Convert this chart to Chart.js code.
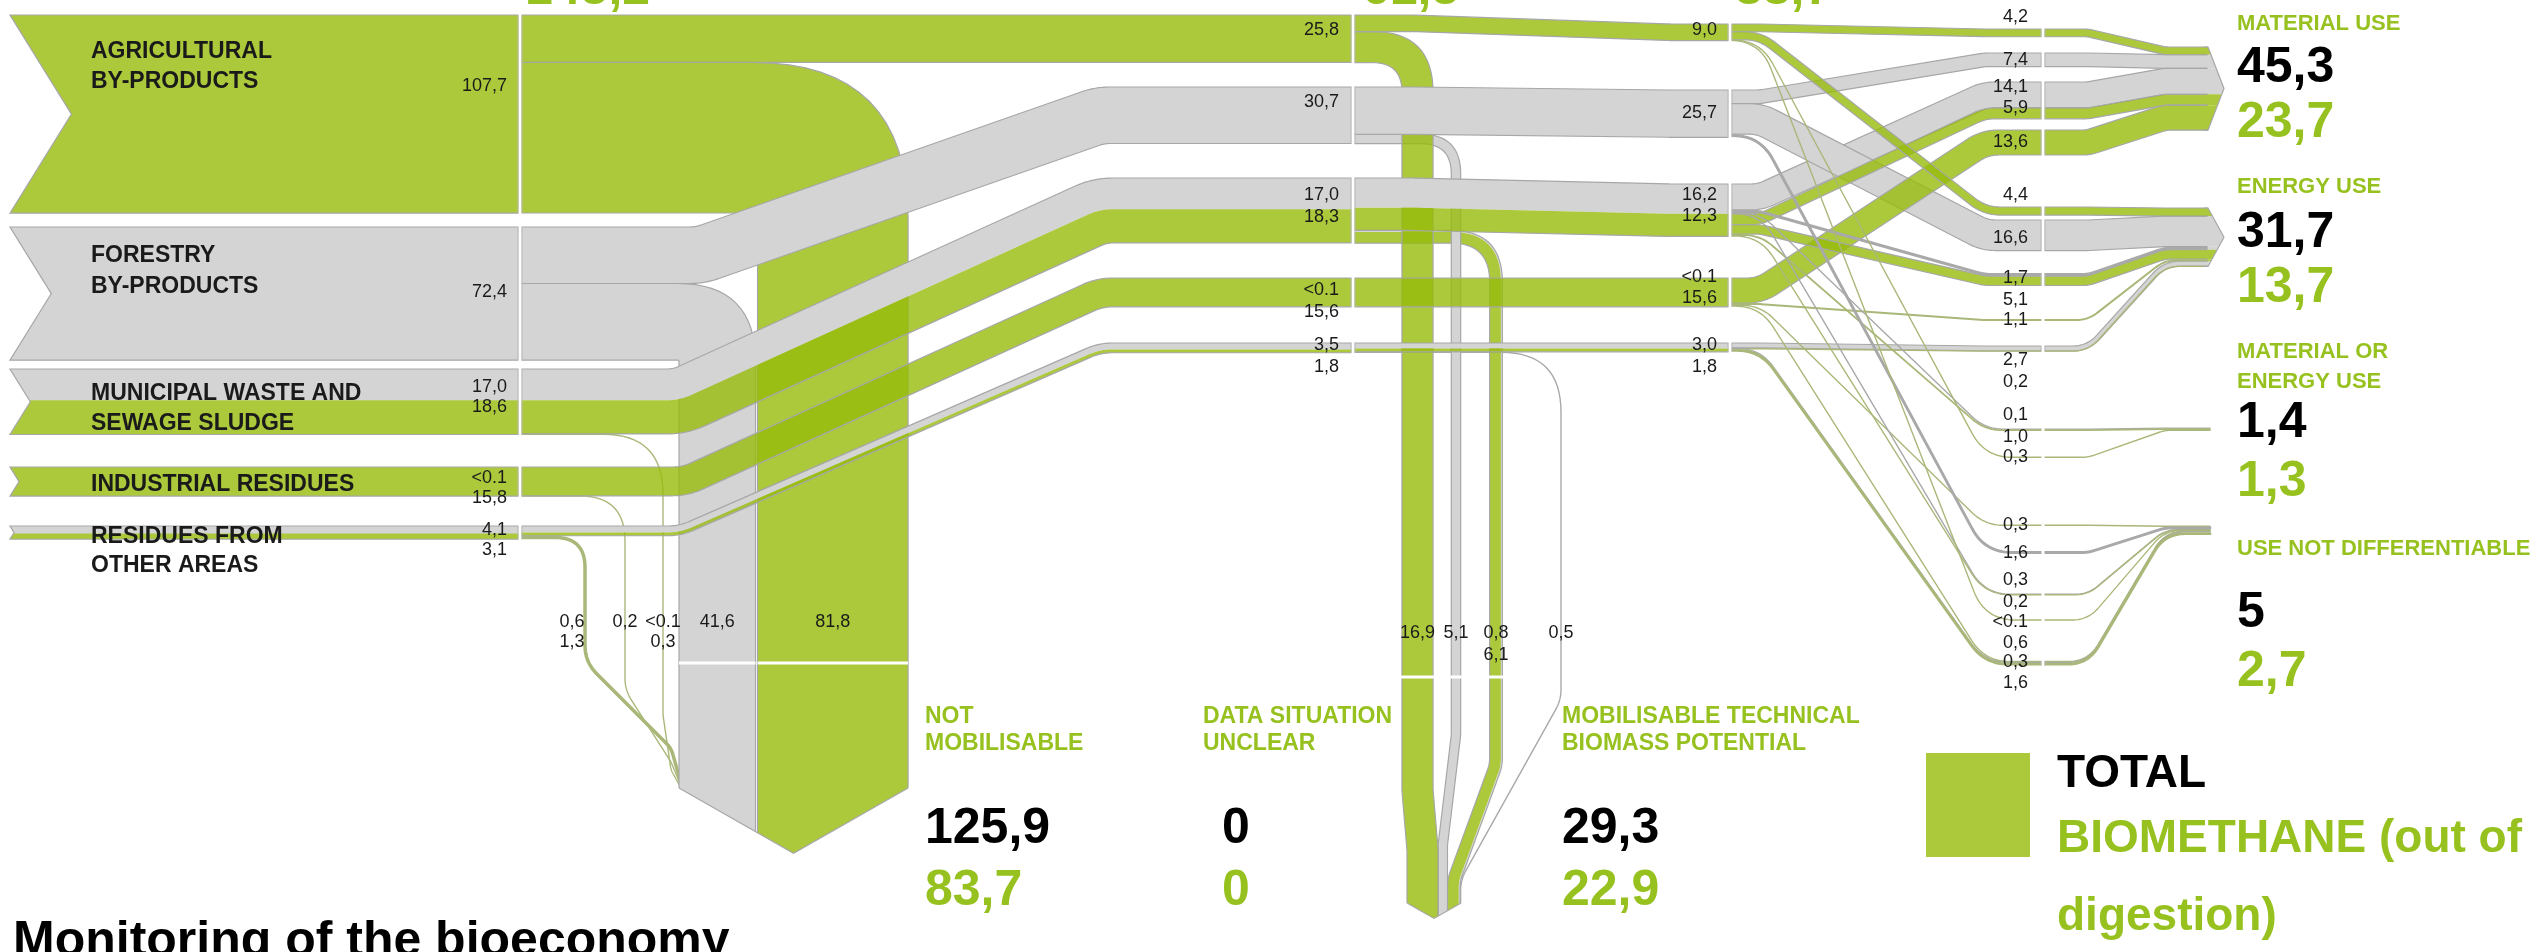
<!DOCTYPE html>
<html>
<head>
<meta charset="utf-8">
<script src="https://cdn.jsdelivr.net/npm/chart.js@4.4.1/dist/chart.umd.min.js"></script>
<style>
  html, body { margin: 0; padding: 0; background: #fff; overflow: hidden; }
</style>
</head>
<body>
<canvas id="myChart" width="2547" height="952"></canvas>
<script>
// DATA  (LT stands for "<0.1")
const LT = 0.05;
const sources = ["AGRICULTURAL\nBY-PRODUCTS", "FORESTRY\nBY-PRODUCTS", "MUNICIPAL WASTE AND\nSEWAGE SLUDGE", "INDUSTRIAL RESIDUES", "RESIDUES FROM\nOTHER AREAS"];
const totalOther = [0, 72.4, 17.0, LT, 4.1];
const totalBio = [107.7, 0, 18.6, 15.8, 3.1];
const notMobOther = [0, 41.6, LT, 0, 0.6];
const notMobBio = [81.8, 0, 0.3, 0.2, 1.3];
const toB_Other = [0, 30.7, 17.0, LT, 3.5];
const toB_Bio = [25.8, 0, 18.3, 15.6, 1.8];
const mobOther = [0, 5.1, 0.8, 0, 0.5];
const mobBio = [16.9, 0, 6.1, 0, 0];
const toC_Other = [0, 25.7, 16.2, LT, 3.0];
const toC_Bio = [9.0, 0, 12.3, 15.6, 1.8];

// split of the mobilisable flows into uses (one entry per labelled flow)
const splitSource = [0, 1, 2, 2, 3, 0, 1, 2, 2, 3, 4, 4, 2, 2, 0, 3, 1, 2, 2, 0, 3, 4, 4];
const splitKind = ["bio", "other", "other", "bio", "bio", "bio", "other", "other", "bio", "bio", "other", "bio", "other", "bio", "bio", "bio", "other", "other", "bio", "bio", "bio", "other", "bio"];
const splitValue = [4.2, 7.4, 14.1, 5.9, 13.6, 4.4, 16.6, 1.7, 5.1, 1.1, 2.7, 0.2, 0.1, 1.0, 0.3, 0.3, 1.6, 0.3, 0.2, LT, 0.6, 0.3, 1.6];
const splitUse = [0, 0, 0, 0, 0, 1, 1, 1, 1, 1, 1, 1, 2, 2, 2, 3, 3, 3, 3, 3, 3, 3, 3];
const splitLane = [0, 1, 2, 2, 3, 4, 5, 6, 6, 7, 8, 8, 9, 9, 10, 11, 12, 13, 13, 14, 15, 15, 15];

const uses = ["MATERIAL USE", "ENERGY USE", "MATERIAL OR\nENERGY USE", "USE NOT DIFFERENTIABLE"];
const useTotal = [45.3, 31.7, 1.4, 5];
const useBio = [23.7, 13.7, 1.3, 2.7];
const stages = ["NOT\nMOBILISABLE", "DATA SITUATION\nUNCLEAR", "MOBILISABLE TECHNICAL\nBIOMASS POTENTIAL"];
const stageTotal = [125.9, 0, 29.3];
const stageBio = [83.7, 0, 22.9];
const columnBio = [145.2, 61.5, 38.7];

// LAYOUT (positions only)
const K = 1.84;
const LAY = {
  nodeLeft: 10, colA: 520, colB: 1353, colC: 1730, colD: 2043, colT: 2208, tip: 16,
  srcTop: [15, 227, 369, 467, 526],
  bTop: [15, 87, 178, 278, 343],
  cTop: [24, 90, 184, 278, 343],
  diag: [[0, 0], [700, 1100], [680, 1100], [685, 1100], [680, 1100]],
  laneTop: [29, 53, 82, 130, 207, 220, 273, 319, 346, 429, 457, 525, 551, 594, 620, 661],
  useTop: [47, 208, 428, 526],
  notMobLeft: 679, notMobOrder: [1, 0], notMobR: [80, 40, 0, 0, 0], notMobDiv: 663, notMobCorner: 788,
  notMobThinX: [0, 0, 663, 625, 585], notMobThinR: [0, 0, 60, 45, 30],
  notMobThinY: [null, null, [715, 770, 788], [690, 762, 786], [662, 748, 783]],
  mobLaneX: [1417.5, 1456, 1496, 0, 1561], mobR: [45, 35, 45, 0, 60],
  mobBendY: [[790, 850], [735, 845], [765, 880], null, [700, 880]],
  mobLeft: 1407, mobOrder: [0, 1, 2, 4], mobDiv: 677, mobCorner: 903, slope: 0.57,
  dLabelY: [22, 65, 92, 113, 147, 200, 243, 283, 305, 325, 365, 387, 420, 442, 462, 530, 558, 585, 607, 627, 648, 667, 688],
  srcLabelY: [[91], [297], [392, 412], [483, 503], [535, 555]],
  srcNameY: [[58, 88], [262, 293], [400, 430], [491], [543, 572]],
  bLabelY: [[35], [107], [200, 222], [295, 317], [350, 372]],
  cLabelY: [[35], [118], [200, 221], [282, 303], [350, 372]],
  useLabelY: [[30, 82, 137], [193, 247, 302], [358, 388, 437, 496], [555, 627, 686]],
  stageX: [925, 1203, 1562], stageNumX: [925, 1222, 1562], stageY: [723, 750, 843, 905],
  topNumX: [525, 1362, 1735]
};

const COL = {
  bio: "#abc93b", bioFlow: "rgba(150,187,10,0.8)", other: "#d4d4d4", edge: "#a7a7a7",
  thinBio: "#a9b879", thinOther: "#a9a9a9", green: "#97c11f", text: "#1a1a1a"
};
const FONT = '"Liberation Sans", Arial, sans-serif';

function fmt(v) { return v < 0.1 ? "<0.1" : v.toFixed(1).replace(".", ","); }
function fmtBig(v) { return Number.isInteger(v) ? String(v) : v.toFixed(1).replace(".", ","); }

// polyline with rounded corners, shifted sideways by o pixels
function edgeLine(pts, radii, o) {
  const n = pts.length, d = [];
  for (let i = 0; i < n - 1; i++) {
    const dx = pts[i + 1][0] - pts[i][0], dy = pts[i + 1][1] - pts[i][1];
    const l = Math.hypot(dx, dy) || 1;
    d.push([dx / l, dy / l]);
  }
  const v = [[pts[0][0] - d[0][1] * o, pts[0][1] + d[0][0] * o]];
  for (let i = 1; i < n - 1; i++) {
    const a = [-d[i - 1][1], d[i - 1][0]], b = [-d[i][1], d[i][0]];
    const k = o / (1 + a[0] * b[0] + a[1] * b[1]);
    v.push([pts[i][0] + (a[0] + b[0]) * k, pts[i][1] + (a[1] + b[1]) * k]);
  }
  v.push([pts[n - 1][0] - d[n - 2][1] * o, pts[n - 1][1] + d[n - 2][0] * o]);
  const out = [v[0]];
  for (let i = 1; i < n - 1; i++) {
    const d1 = d[i - 1], d2 = d[i];
    const cr = d1[0] * d2[1] - d1[1] * d2[0];
    const th = Math.atan2(Math.abs(cr), d1[0] * d2[0] + d1[1] * d2[1]);
    let r = Math.max(0, (radii[i - 1] || 0) - o * Math.sign(cr));
    let t = r * Math.tan(th / 2);
    const lp = Math.hypot(v[i][0] - v[i - 1][0], v[i][1] - v[i - 1][1]);
    const ln = Math.hypot(v[i + 1][0] - v[i][0], v[i + 1][1] - v[i][1]);
    t = Math.min(t, i === 1 ? lp : lp / 2, i === n - 2 ? ln : ln / 2);
    if (t < 0.05) { out.push(v[i]); continue; }
    const s = [v[i][0] - d1[0] * t, v[i][1] - d1[1] * t];
    const e = [v[i][0] + d2[0] * t, v[i][1] + d2[1] * t];
    for (let k = 0; k <= 16; k++) {
      const q = k / 16, w0 = (1 - q) * (1 - q), w1 = 2 * q * (1 - q), w2 = q * q;
      out.push([w0 * s[0] + w1 * v[i][0] + w2 * e[0], w0 * s[1] + w1 * v[i][1] + w2 * e[1]]);
    }
  }
  out.push(v[n - 1]);
  return out;
}

function tracePath(ctx, pts) {
  pts.forEach((p, i) => i ? ctx.lineTo(p[0], p[1]) : ctx.moveTo(p[0], p[1]));
}

// parts: [{w (pixels), kind}] stacked from the left side of travel
function band(ctx, pts, radii, parts, roundEnd) {
  const W = parts.reduce((s, p) => s + p.w, 0);
  if (W <= 0) return;
  if (W < 4) {
    const bio = parts.filter(p => p.kind === "bio").reduce((s, p) => s + p.w, 0);
    ctx.beginPath();
    tracePath(ctx, edgeLine(pts, radii, 0));
    ctx.lineWidth = Math.max(W, 1.4);
    ctx.strokeStyle = bio > W / 2 ? COL.thinBio : COL.thinOther;
    ctx.lineCap = roundEnd ? "round" : "butt";
    ctx.stroke();
    ctx.lineCap = "butt";
    return;
  }
  let o = -W / 2;
  parts.forEach((p, i) => {
    if (p.w <= 0) return;
    const next = parts[i + 1];
    const pad = next && next.w > 0 && next.kind === "other" ? 0.6 : 0;
    const a = edgeLine(pts, radii, o);
    const b = edgeLine(pts, radii, o + p.w + pad).reverse();
    ctx.beginPath();
    tracePath(ctx, a.concat(b));
    ctx.closePath();
    // green flows are slightly see-through, so crossings get a darker green
    ctx.fillStyle = p.kind === "bio" ? COL.bioFlow : COL.other;
    ctx.fill();
    o += p.w;
  });
  ctx.strokeStyle = COL.edge;
  ctx.lineWidth = 1.2;
  ctx.beginPath(); tracePath(ctx, edgeLine(pts, radii, -W / 2)); ctx.stroke();
  ctx.beginPath(); tracePath(ctx, edgeLine(pts, radii, W / 2)); ctx.stroke();
}

function drawAll(chart) {
  const ctx = chart.ctx;
  const xs = chart.scales.x, ys = chart.scales.y;
  const X = v => xs.getPixelForValue(v), Y = v => ys.getPixelForValue(v);
  const P = (x, y) => [X(x), Y(y)];
  const W = v => Math.abs(ys.getPixelForValue(v * K) - ys.getPixelForValue(0));
  const u = v => v * K;
  const parts2 = (o, b) => [{ w: W(o), kind: "other" }, { w: W(b), kind: "bio" }];
  const cw = chart.width, ch = chart.height;
  ctx.save();

  // ---------- drop node geometry
  const nm = { l: LAY.notMobLeft, lane: {} };
  let x = nm.l;
  LAY.notMobOrder.forEach(s => { const w = u(notMobOther[s] + notMobBio[s]); nm.lane[s] = [x, x + w]; x += w + 2; });
  nm.r = x - 2;
  nm.cy = LAY.notMobCorner; nm.tx = (nm.l + nm.r) / 2; nm.ty = nm.cy + (nm.r - nm.l) / 2 * LAY.slope;
  const mb = { l: LAY.mobLeft, lane: {} };
  x = mb.l;
  LAY.mobOrder.forEach(s => { const w = u(mobOther[s] + mobBio[s]); mb.lane[s] = [x, x + w]; x += w; });
  mb.r = x;
  mb.cy = LAY.mobCorner; mb.tx = (mb.l + mb.r) / 2; mb.ty = mb.cy + (mb.r - mb.l) / 2 * LAY.slope;

  // clip away everything below the two pointed node bottoms
  ctx.save();
  ctx.beginPath();
  ctx.rect(0, 0, cw, ch);
  [nm, mb].forEach(n => {
    ctx.moveTo(X(n.l - 8), Y(n.cy - 8 * LAY.slope));
    ctx.lineTo(X(n.tx), Y(n.ty));
    ctx.lineTo(X(n.r + 8), Y(n.cy - 8 * LAY.slope));
    ctx.lineTo(X(n.r + 8), ch + 20);
    ctx.lineTo(X(n.l - 8), ch + 20);
    ctx.closePath();
  });
  ctx.clip("evenodd");

  // not mobilisable: thin tributaries first
  [4, 3, 2].forEach(s => {
    const y0 = LAY.srcTop[s] + u(toB_Other[s] + toB_Bio[s]) + u(notMobOther[s] + notMobBio[s]) / 2;
    const tx = LAY.notMobThinX[s], by = LAY.notMobThinY[s];
    band(ctx, [P(LAY.colA, y0), P(tx, y0), P(tx, by[0]), P(nm.l - 8, by[1]), P(nm.l + 2, by[2])],
      [LAY.notMobThinR[s], 40, 25], parts2(notMobOther[s], notMobBio[s]));
  });
  LAY.notMobOrder.forEach(s => {
    const y0 = LAY.srcTop[s] + u(toB_Other[s] + toB_Bio[s]) + u(notMobOther[s] + notMobBio[s]) / 2;
    const cx = (nm.lane[s][0] + nm.lane[s][1]) / 2;
    band(ctx, [P(LAY.colA, y0), P(cx, y0), P(cx, 950)], [LAY.notMobR[s]], parts2(notMobOther[s], notMobBio[s]));
  });
  // mobilisable technical potential
  [4, 2, 1, 0].forEach(s => {
    const y0 = LAY.bTop[s] + u(toC_Other[s] + toC_Bio[s]) + u(mobOther[s] + mobBio[s]) / 2;
    const lx = LAY.mobLaneX[s], cx = (mb.lane[s][0] + mb.lane[s][1]) / 2, by = LAY.mobBendY[s];
    band(ctx, [P(LAY.colB, y0), P(lx, y0), P(lx, by[0]), P(cx, by[1]), P(cx, 950)],
      [LAY.mobR[s], 40, 40], parts2(mobOther[s], mobBio[s]));
  });
  ctx.restore();

  // pointed bottoms outline + white dividers
  ctx.strokeStyle = COL.edge; ctx.lineWidth = 1.2;
  [nm, mb].forEach(n => {
    ctx.beginPath();
    ctx.moveTo(X(n.l), Y(n.cy)); ctx.lineTo(X(n.tx), Y(n.ty)); ctx.lineTo(X(n.r), Y(n.cy));
    ctx.stroke();
  });
  ctx.fillStyle = "#fff";
  LAY.notMobOrder.forEach(s => {
    const l = nm.lane[s];
    ctx.fillRect(X(l[0]), Y(LAY.notMobDiv) - 1.5, X(l[1]) - X(l[0]), 3);
  });
  [0, 1, 2].forEach(s => {
    const w = u(mobOther[s] + mobBio[s]);
    ctx.fillRect(X(LAY.mobLaneX[s] - w / 2) - 1, Y(LAY.mobDiv) - 1.5, X(w) - X(0) + 2, 3);
  });

  // ---------- A -> B
  for (let s = 0; s < sources.length; s++) {
    const h = u(toB_Other[s] + toB_Bio[s]);
    const ya = LAY.srcTop[s] + h / 2, yb = LAY.bTop[s] + h / 2;
    const pts = Math.abs(ya - yb) < 0.5 ? [P(LAY.colA, ya), P(LAY.colB, yb)]
      : [P(LAY.colA, ya), P(LAY.diag[s][0], ya), P(LAY.diag[s][1], yb), P(LAY.colB, yb)];
    band(ctx, pts, [60, 60], parts2(toB_Other[s], toB_Bio[s]));
  }
  // ---------- B -> C
  for (let s = 0; s < sources.length; s++) {
    const h = u(toC_Other[s] + toC_Bio[s]);
    const yb = LAY.bTop[s] + h / 2, yc = LAY.cTop[s] + h / 2;
    const pts = Math.abs(yb - yc) < 0.5 ? [P(LAY.colB, yb), P(LAY.colC, yc)]
      : [P(LAY.colB, yb), P(LAY.colB + 60, yb), P(LAY.colC - 60, yc), P(LAY.colC, yc)];
    band(ctx, pts, [200, 200], parts2(toC_Other[s], toC_Bio[s]));
  }

  // ---------- C -> D -> use
  const cOff = LAY.cTop.slice(), lOff = LAY.laneTop.slice(), tOff = LAY.useTop.slice();
  const yc = [], yd = [], yt = [];
  ["other", "bio"].forEach(kind => splitValue.forEach((v, i) => {
    if (splitKind[i] !== kind) return;
    const s = splitSource[i];
    yc[i] = cOff[s] + u(v) / 2; cOff[s] += u(v);
  }));
  splitValue.forEach((v, i) => {
    yd[i] = lOff[splitLane[i]] + u(v) / 2; lOff[splitLane[i]] += u(v);
    yt[i] = tOff[splitUse[i]] + u(v) / 2; tOff[splitUse[i]] += u(v);
  });
  const order = splitValue.map((v, i) => i).sort((a, b) => {
    const rank = i => (W(splitValue[i]) < 4 ? 2 : (splitKind[i] === "other" ? 0 : 1));
    return rank(a) - rank(b);
  });
  order.forEach(i => {
    const part = [{ w: W(splitValue[i]), kind: splitKind[i] }];
    const a = yc[i], b = yd[i];
    const pts1 = Math.abs(a - b) < 0.5 ? [P(LAY.colC, a), P(LAY.colD, b)]
      : [P(LAY.colC, a), P(LAY.colC + 30, a), P(1985, b), P(LAY.colD, b)];
    band(ctx, pts1, [45, 45], part);
  });
  order.forEach(i => {
    const part = [{ w: W(splitValue[i]), kind: splitKind[i] }];
    const a = yd[i], b = yt[i], thin = splitUse[i] >= 2;
    const endX = thin ? LAY.colT + 2 : LAY.colT;
    const pts2 = Math.abs(a - b) < 0.5 ? [P(LAY.colD, a), P(endX, b)]
      : [P(LAY.colD, a), P(2088, a), P(2165, b), P(endX, b)];
    band(ctx, pts2, [35, 35], part, thin);
  });
  // arrow heads of the two large uses
  [0, 1].forEach(use => {
    const top = LAY.useTop[use], bot = tOff[use], mid = (top + bot) / 2, half = (bot - top) / 2;
    const xr = y => LAY.colT + LAY.tip * (1 - Math.abs(y - mid) / half);
    splitValue.forEach((v, i) => {
      if (splitUse[i] !== use) return;
      const a = yt[i] - u(v) / 2, b = yt[i] + u(v) / 2;
      ctx.beginPath();
      ctx.moveTo(X(LAY.colT) - 0.5, Y(a)); ctx.lineTo(X(xr(a)), Y(a));
      if (a < mid && b > mid) ctx.lineTo(X(LAY.colT + LAY.tip), Y(mid));
      ctx.lineTo(X(xr(b)), Y(b)); ctx.lineTo(X(LAY.colT) - 0.5, Y(b));
      ctx.closePath();
      ctx.fillStyle = splitKind[i] === "bio" ? COL.bio : COL.other;
      ctx.fill();
    });
    ctx.strokeStyle = COL.edge; ctx.lineWidth = 1.2;
    ctx.beginPath();
    ctx.moveTo(X(LAY.colT - 4), Y(top)); ctx.lineTo(X(LAY.colT), Y(top));
    ctx.lineTo(X(LAY.colT + LAY.tip), Y(mid)); ctx.lineTo(X(LAY.colT), Y(bot)); ctx.lineTo(X(LAY.colT - 4), Y(bot));
    ctx.stroke();
  });

  // ---------- source nodes with notched left side
  for (let s = 0; s < sources.length; s++) {
    const top = LAY.srcTop[s], h = u(totalOther[s] + totalBio[s]), bot = top + h;
    const poly = [P(LAY.nodeLeft, top), P(LAY.colA, top), P(LAY.colA, bot), P(LAY.nodeLeft, bot),
      P(LAY.nodeLeft + h / 2 * 0.62, top + h / 2)];
    ctx.save();
    ctx.beginPath(); tracePath(ctx, poly); ctx.closePath();
    ctx.clip();
    ctx.fillStyle = COL.other;
    ctx.fillRect(X(LAY.nodeLeft), Y(top), X(LAY.colA) - X(LAY.nodeLeft), W(totalOther[s]) + 0.5);
    ctx.fillStyle = COL.bio;
    ctx.fillRect(X(LAY.nodeLeft), Y(top + u(totalOther[s])), X(LAY.colA) - X(LAY.nodeLeft), W(totalBio[s]));
    ctx.restore();
    ctx.beginPath(); tracePath(ctx, poly); ctx.closePath();
    ctx.strokeStyle = COL.edge; ctx.lineWidth = 1.2; ctx.stroke();
  }

  // ---------- vertical white dividers
  const divider = (xv, y0, y1) => {
    const a = Y(y0), b = Y(y1), h = Math.max(b - a, 3), m = (a + b) / 2;
    ctx.fillStyle = "#fff";
    ctx.fillRect(X(xv) - 1.5, m - h / 2 - 1.5, 3, h + 3);
    if (b - a >= 4) {
      ctx.fillStyle = "#b8b8b8";
      ctx.fillRect(X(xv) - 2.5, a, 1, b - a);
      ctx.fillRect(X(xv) + 1.5, a, 1, b - a);
    }
  };
  for (let s = 0; s < sources.length; s++) {
    divider(LAY.colA, LAY.srcTop[s], LAY.srcTop[s] + u(totalOther[s] + totalBio[s]));
    divider(LAY.colB, LAY.bTop[s], LAY.bTop[s] + u(toB_Other[s] + toB_Bio[s]));
    divider(LAY.colC, LAY.cTop[s], LAY.cTop[s] + u(toC_Other[s] + toC_Bio[s]));
  }
  LAY.laneTop.forEach((t, l) => divider(LAY.colD, t, lOff[l]));

  // ---------- texts
  const text = (str, xv, yv, font, color, align) => {
    ctx.font = font; ctx.fillStyle = color; ctx.textAlign = align || "left"; ctx.textBaseline = "alphabetic";
    ctx.fillText(str, X(xv), Y(yv));
  };
  const small = "18px " + FONT, name = "bold 23px " + FONT, big = "bold 50px " + FONT;
  const pairLabels = (o, b) => [o, b].filter(v => v > 0).map(fmt);

  sources.forEach((nm2, s) => {
    nm2.split("\n").forEach((line, k) => text(line, 91, LAY.srcNameY[s][k], name, COL.text));
    pairLabels(totalOther[s], totalBio[s]).forEach((t, k) => text(t, 507, LAY.srcLabelY[s][k], small, COL.text, "right"));
    pairLabels(toB_Other[s], toB_Bio[s]).forEach((t, k) => text(t, 1339, LAY.bLabelY[s][k], small, COL.text, "right"));
    pairLabels(toC_Other[s], toC_Bio[s]).forEach((t, k) => text(t, 1717, LAY.cLabelY[s][k], small, COL.text, "right"));
    const nmx = nm.lane[s] ? (nm.lane[s][0] + nm.lane[s][1]) / 2 : LAY.notMobThinX[s] - (s === 4 ? 13 : 0);
    pairLabels(notMobOther[s], notMobBio[s]).forEach((t, k) => text(t, nmx, 627 + k * 20, small, COL.text, "center"));
    if (mobOther[s] + mobBio[s] > 0)
      pairLabels(mobOther[s], mobBio[s]).forEach((t, k) => text(t, LAY.mobLaneX[s], 638 + k * 22, small, COL.text, "center"));
  });
  splitValue.forEach((v, i) => text(fmt(v), 2028, LAY.dLabelY[i], small, COL.text, "right"));

  uses.forEach((nm3, k) => {
    const ly = LAY.useLabelY[k], lines = nm3.split("\n");
    lines.forEach((line, j) => text(line, 2237, ly[j], "bold 22px " + FONT, COL.green));
    text(fmtBig(useTotal[k]), 2237, ly[lines.length], big, "#000");
    text(fmtBig(useBio[k]), 2237, ly[lines.length + 1], big, COL.green);
  });
  stages.forEach((nm4, k) => {
    nm4.split("\n").forEach((line, j) => text(line, LAY.stageX[k], LAY.stageY[j], name, COL.green));
    text(fmtBig(stageTotal[k]), LAY.stageNumX[k], LAY.stageY[2], big, "#000");
    text(fmtBig(stageBio[k]), LAY.stageNumX[k], LAY.stageY[3], big, COL.green);
  });
  columnBio.forEach((v, k) => text(fmtBig(v), LAY.topNumX[k], 4, big, COL.green));

  // legend
  ctx.fillStyle = COL.bio;
  ctx.fillRect(X(1926), Y(753), X(2030) - X(1926), Y(857) - Y(753));
  text("TOTAL", 2057, 787, "bold 46px " + FONT, "#000");
  text("BIOMETHANE (out of", 2057, 852, "bold 46px " + FONT, COL.green);
  text("digestion)", 2057, 930, "bold 46px " + FONT, COL.green);
  text("Monitoring of the bioeconomy", 13, 956, "bold 50px " + FONT, "#000");
  ctx.restore();
}

const sankeyPlugin = { id: "sankeyFlows", afterDatasetsDraw: drawAll };

const config = {
  type: "scatter",
  data: { datasets: [{ data: [], pointRadius: 0 }] },
  options: {
    responsive: false, animation: false, devicePixelRatio: 1, events: [],
    layout: { padding: 0 },
    plugins: { legend: { display: false }, tooltip: { enabled: false } },
    scales: {
      x: { type: "linear", min: 0, max: 2547, display: false },
      y: { type: "linear", min: 0, max: 952, reverse: true, display: false }
    }
  },
  plugins: [sankeyPlugin]
};

new Chart(document.getElementById("myChart"), config);
</script>
</body>
</html>
